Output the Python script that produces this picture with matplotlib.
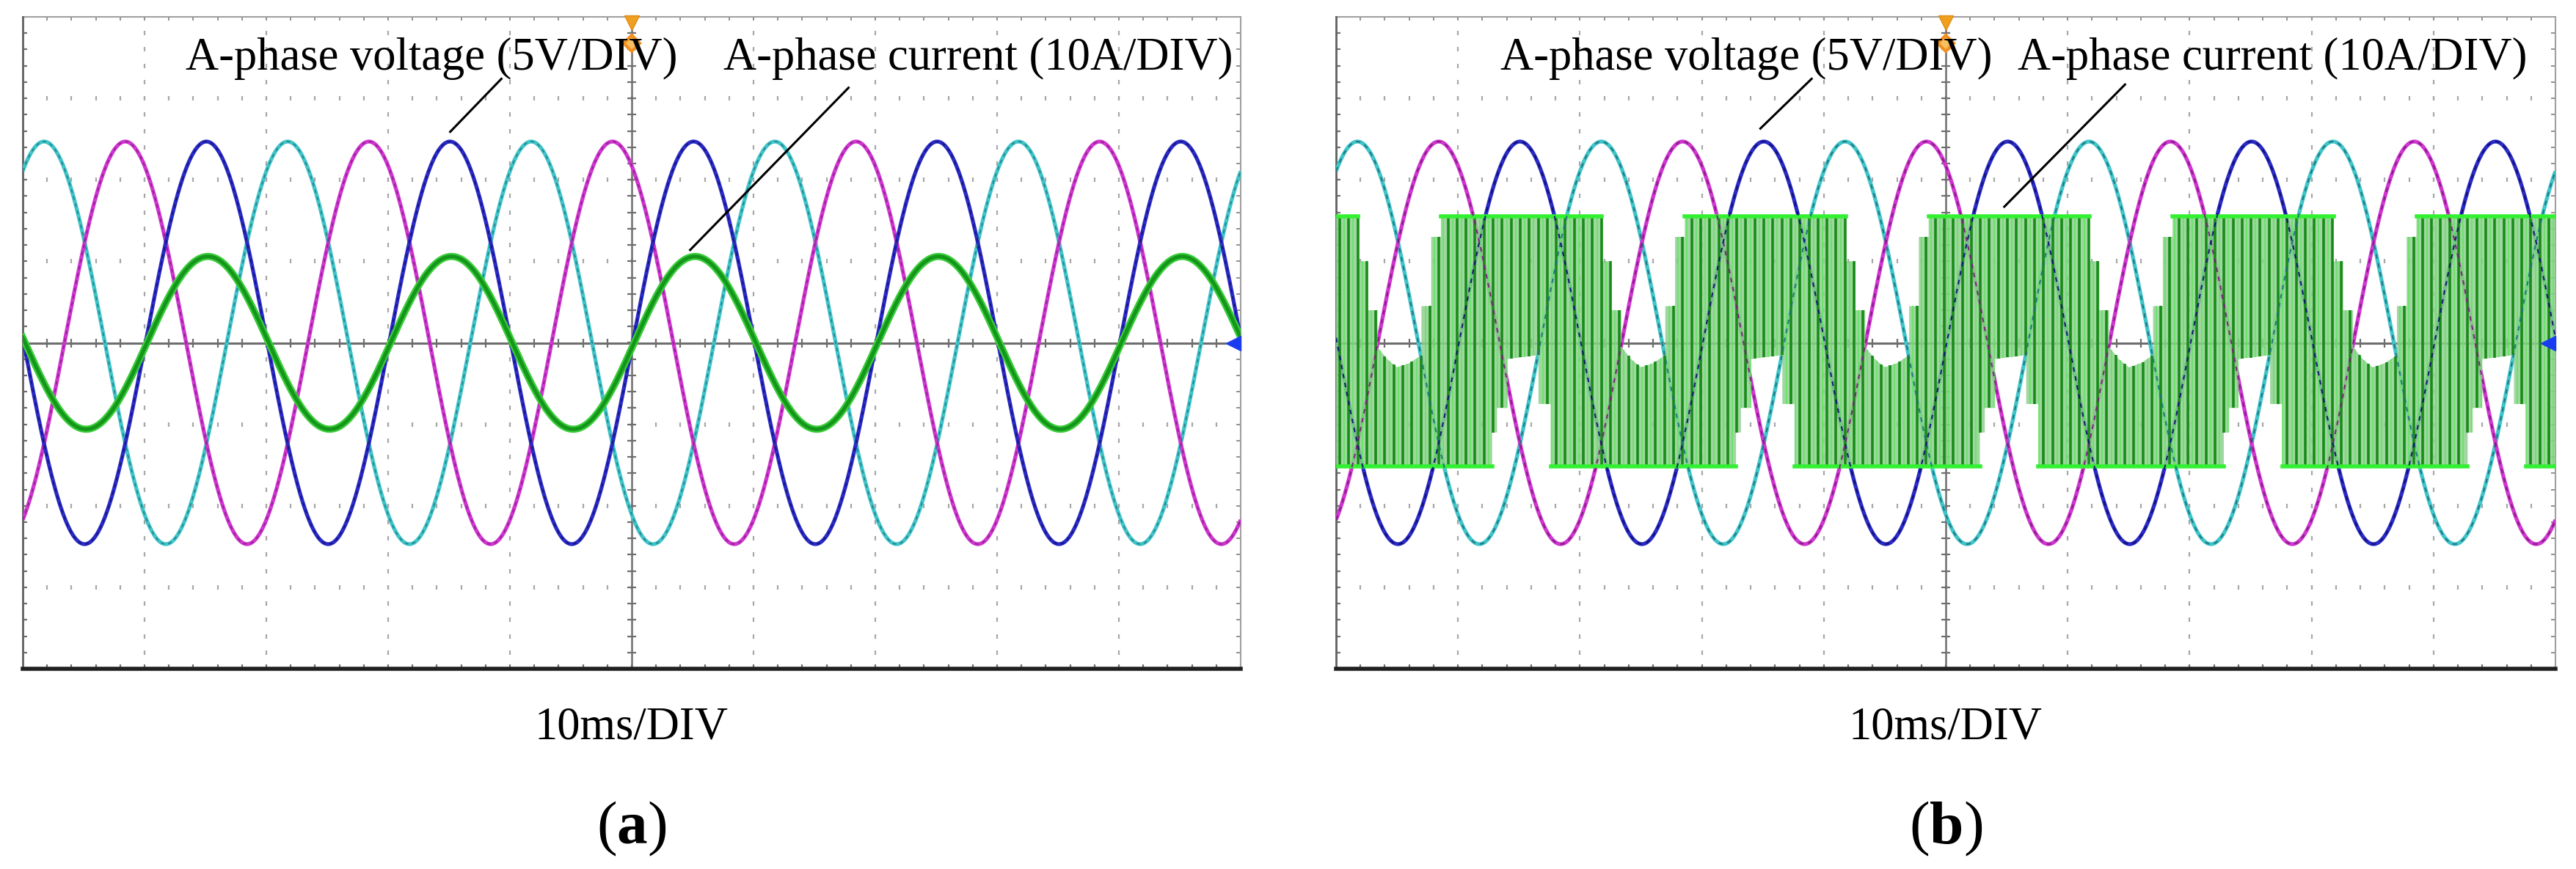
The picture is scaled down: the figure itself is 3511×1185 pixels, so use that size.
import numpy as np
import matplotlib
matplotlib.use("Agg")
import matplotlib.pyplot as plt

plt.rcParams['font.family'] = ['Liberation Serif', 'DejaVu Serif']
plt.rcParams['mathtext.fontset'] = 'custom'
plt.rcParams['mathtext.rm'] = 'Liberation Serif'
plt.rcParams['mathtext.bf'] = 'Liberation Serif:bold'

# ---------------- data (read from the oscilloscope screens) ----------------
panel_labels = ['a', 'b']
volt_label = 'A-phase voltage (5V/DIV)'
curr_label = 'A-phase current (10A/DIV)'
time_label = '10ms/DIV'

screen_ms = 100.0          # 10 div x 10 ms
period_ms = 20.0           # 50 Hz
volt_amp_div = 2.47        # peak of each phase voltage, in divisions
volt_names = ['cyan', 'magenta', 'blue']
volt_peak_ms = [1.75, 8.42, 15.08]   # time of first peak of each phase
curr_a_amp_div = 1.06      # panel (a) sinusoidal current amplitude
curr_a_peak_ms = 15.2

# panel (b) switching current: envelope of one 20 ms period (ms, div)
env_up_t = [0, 1.8, 1.8, 2.6, 2.6, 3.4, 3.4, 4.2, 5.0, 6.0, 7.0, 7.0, 7.8, 7.8, 8.6, 8.6, 20]
env_up_v = [1.55, 1.55, 1.0, 1.0, 0.4, 0.4, -0.05, -0.2, -0.3, -0.25, -0.15, 0.45, 0.45, 1.3, 1.3, 1.55, 1.55]
env_lo_t = [0, 12.8, 12.8, 13.2, 13.2, 14.0, 14.0, 16.6, 16.6, 17.6, 17.6, 20]
env_lo_v = [-1.52, -1.52, -1.1, -1.1, -0.8, -0.8, -0.2, -0.15, -0.75, -0.75, -1.52, -1.52]
switch_ms = 0.74           # spacing of the switching stripes

# annotation pointer lines (ms, div): text end -> trace
ann_volt = [((39.3, 3.24), (35.1, 2.59)), ((39.0, 3.24), (34.8, 2.63))]
ann_curr = [((67.8, 3.13), (54.8, 1.14)), ((64.7, 3.17), (54.8, 1.67))]
txt_volt_x = [13.4, 13.5]
txt_curr_x = [57.5, 55.9]

# ---------------- style ----------------
vcol = {'cyan': '#3fc4c8', 'magenta': '#cf35cf', 'blue': '#2a2ac4'}
vdash = {'cyan': '#1d6e7c', 'magenta': '#7a1a7a', 'blue': '#0c0c6e'}

W, H = 3512, 1185
fig = plt.figure(figsize=(W / 100, H / 100), dpi=100)
fig.patch.set_facecolor('white')
panels_px = [(31, 1691), (1821, 3483)]
top_px, bot_px = 23, 912

t = np.linspace(0, screen_ms, 6001)


def tile(ts, vs, n):
    T, V = [], []
    for k in range(n):
        T += [x + k * period_ms for x in ts]
        V += list(vs)
    return np.array(T), np.array(V)


for i, (l, r) in enumerate(panels_px):
    ax = fig.add_axes([l / W, 1 - bot_px / H, (r - l) / W, (bot_px - top_px) / H])
    ax.set_xlim(0, 100)
    ax.set_ylim(-4, 4)
    ax.axis('off')

    # dotted graticule
    minor_y = np.arange(-4, 4.001, 0.2)
    minor_x = np.arange(0, 100.001, 2)
    for xv in [10, 20, 30, 40, 60, 70, 80, 90]:
        ax.plot(np.full_like(minor_y, xv), minor_y, ls='none', marker='|', ms=4,
                mew=1.6, color='#a8a8a8', zorder=1)
    for yv in [-3, -2, -1, 1, 2, 3]:
        ax.plot(minor_x, np.full_like(minor_x, yv), ls='none', marker='|', ms=4,
                mew=1.6, color='#a8a8a8', zorder=1)
    # centre axes with ticks
    ax.axhline(0, color='#6e6e6e', lw=2.2, zorder=2)
    ax.axvline(50, color='#6e6e6e', lw=1.8, zorder=2)
    ax.plot(minor_x, np.zeros_like(minor_x), ls='none', marker='|', ms=8, mew=1.6,
            color='#6e6e6e', zorder=2)
    ax.plot(np.full_like(minor_y, 50), minor_y, ls='none', marker='_', ms=8, mew=1.6,
            color='#6e6e6e', zorder=2)
    # border ticks
    ax.plot(np.zeros_like(minor_y), minor_y, ls='none', marker='_', ms=9, mew=1.6,
            color='#707070', zorder=2)
    ax.plot(np.full_like(minor_y, 100), minor_y, ls='none', marker='_', ms=9, mew=1.4,
            color='#909090', zorder=2)
    ax.plot(minor_x, np.full_like(minor_x, 4), ls='none', marker='|', ms=7, mew=1.4,
            color='#909090', zorder=2)
    ax.plot(minor_x, np.full_like(minor_x, -4), ls='none', marker='|', ms=9, mew=1.6,
            color='#707070', zorder=2)
    # borders
    ax.plot([0, 1], [1, 1], transform=ax.transAxes, color='#a0a0a0', lw=1.5, clip_on=False, zorder=2)
    ax.plot([0, 0], [0, 1], transform=ax.transAxes, color='#606060', lw=2.0, clip_on=False, zorder=2)
    ax.plot([1, 1], [0, 1], transform=ax.transAxes, color='#a0a0a0', lw=1.5, clip_on=False, zorder=2)
    ax.plot([0, 1], [0, 0], transform=ax.transAxes, color='#202020', lw=4.0, clip_on=False, zorder=8)

    # three phase voltages
    volts = {}
    for name, pk in zip(volt_names, volt_peak_ms):
        volts[name] = volt_amp_div * np.cos(2 * np.pi * (t - pk) / period_ms)
        ax.plot(t, volts[name], color=vcol[name], lw=3.8, zorder=3, solid_capstyle='butt')

    if i == 0:
        for name in volt_names:
            ax.plot(t, volts[name], color=vdash[name], lw=1.2, ls=(0, (3, 3)), zorder=3.5, alpha=0.8)
        cur = curr_a_amp_div * np.cos(2 * np.pi * (t - curr_a_peak_ms) / period_ms)
        ax.plot(t, cur, color='#3acc3a', lw=7.0, zorder=4)
        ax.plot(t, cur, color='#14961a', lw=3.6, zorder=4.5)
    else:
        n_per = int(round(screen_ms / period_ms))
        Tu, Vu = tile(env_up_t, env_up_v, n_per)
        Tl, Vl = tile(env_lo_t, env_lo_v, n_per)
        ax.fill(np.r_[Tu, Tl[::-1]], np.r_[Vu, Vl[::-1]], color='#8fcf8f', alpha=0.85,
                lw=0, zorder=4)
        ts = np.arange(0.3, screen_ms, switch_ms)
        up = np.interp(ts, Tu, Vu)
        lo = np.interp(ts, Tl, Vl)
        ax.vlines(ts, lo, up, color='#178c17', lw=2.6, zorder=4.3)
        ts2 = ts + switch_ms / 2
        up2 = np.interp(ts2, Tu, Vu)
        lo2 = np.interp(ts2, Tl, Vl)
        ax.vlines(ts2, lo2, up2, color='#55e855', lw=1.1, zorder=4.2, alpha=0.9)
        # bright edges only on the saturated (flat) levels
        ax.plot(Tu, np.where(Vu >= 1.5, Vu, np.nan), color='#33f033', lw=4.0, zorder=4.6)
        ax.plot(Tl, np.where(Vl <= -1.5, Vl, np.nan), color='#33f033', lw=4.0, zorder=4.6)
        for name in volt_names:
            ax.plot(t, volts[name], color=vdash[name], lw=1.5, ls=(0, (3, 3)), zorder=5, alpha=0.9)

    # trigger markers
    ax.plot([50], [3.93], marker='v', ms=14, color='#f0a020', mec='#e08a10', zorder=9, clip_on=False)
    ax.plot([50], [3.68], marker='D', ms=11, color='#f8c060', mec='#f09020', mew=3, zorder=9)
    ax.plot([99.4], [0], marker='<', ms=14, color='#1a3cf0', mec='#1a3cf0', zorder=9, clip_on=False)

    # annotations
    ax.text(txt_volt_x[i], 3.35, volt_label, fontsize=45, ha='left', va='baseline', zorder=10)
    ax.text(txt_curr_x[i], 3.35, curr_label, fontsize=45, ha='left', va='baseline', zorder=10)
    for (p0, p1) in (ann_volt[i], ann_curr[i]):
        ax.plot([p0[0], p1[0]], [p0[1], p1[1]], color='black', lw=2.2, zorder=10)

    cx = (l + r) / 2 / W
    fig.text(cx, 1 - 1008 / H, time_label, fontsize=45, ha='center', va='baseline')
    fig.text(cx, 1 - 1150 / H, r'($\mathbf{%s}$)' % panel_labels[i], fontsize=60,
             ha='center', va='baseline')

fig.savefig('out.png', dpi=100, facecolor='white')
